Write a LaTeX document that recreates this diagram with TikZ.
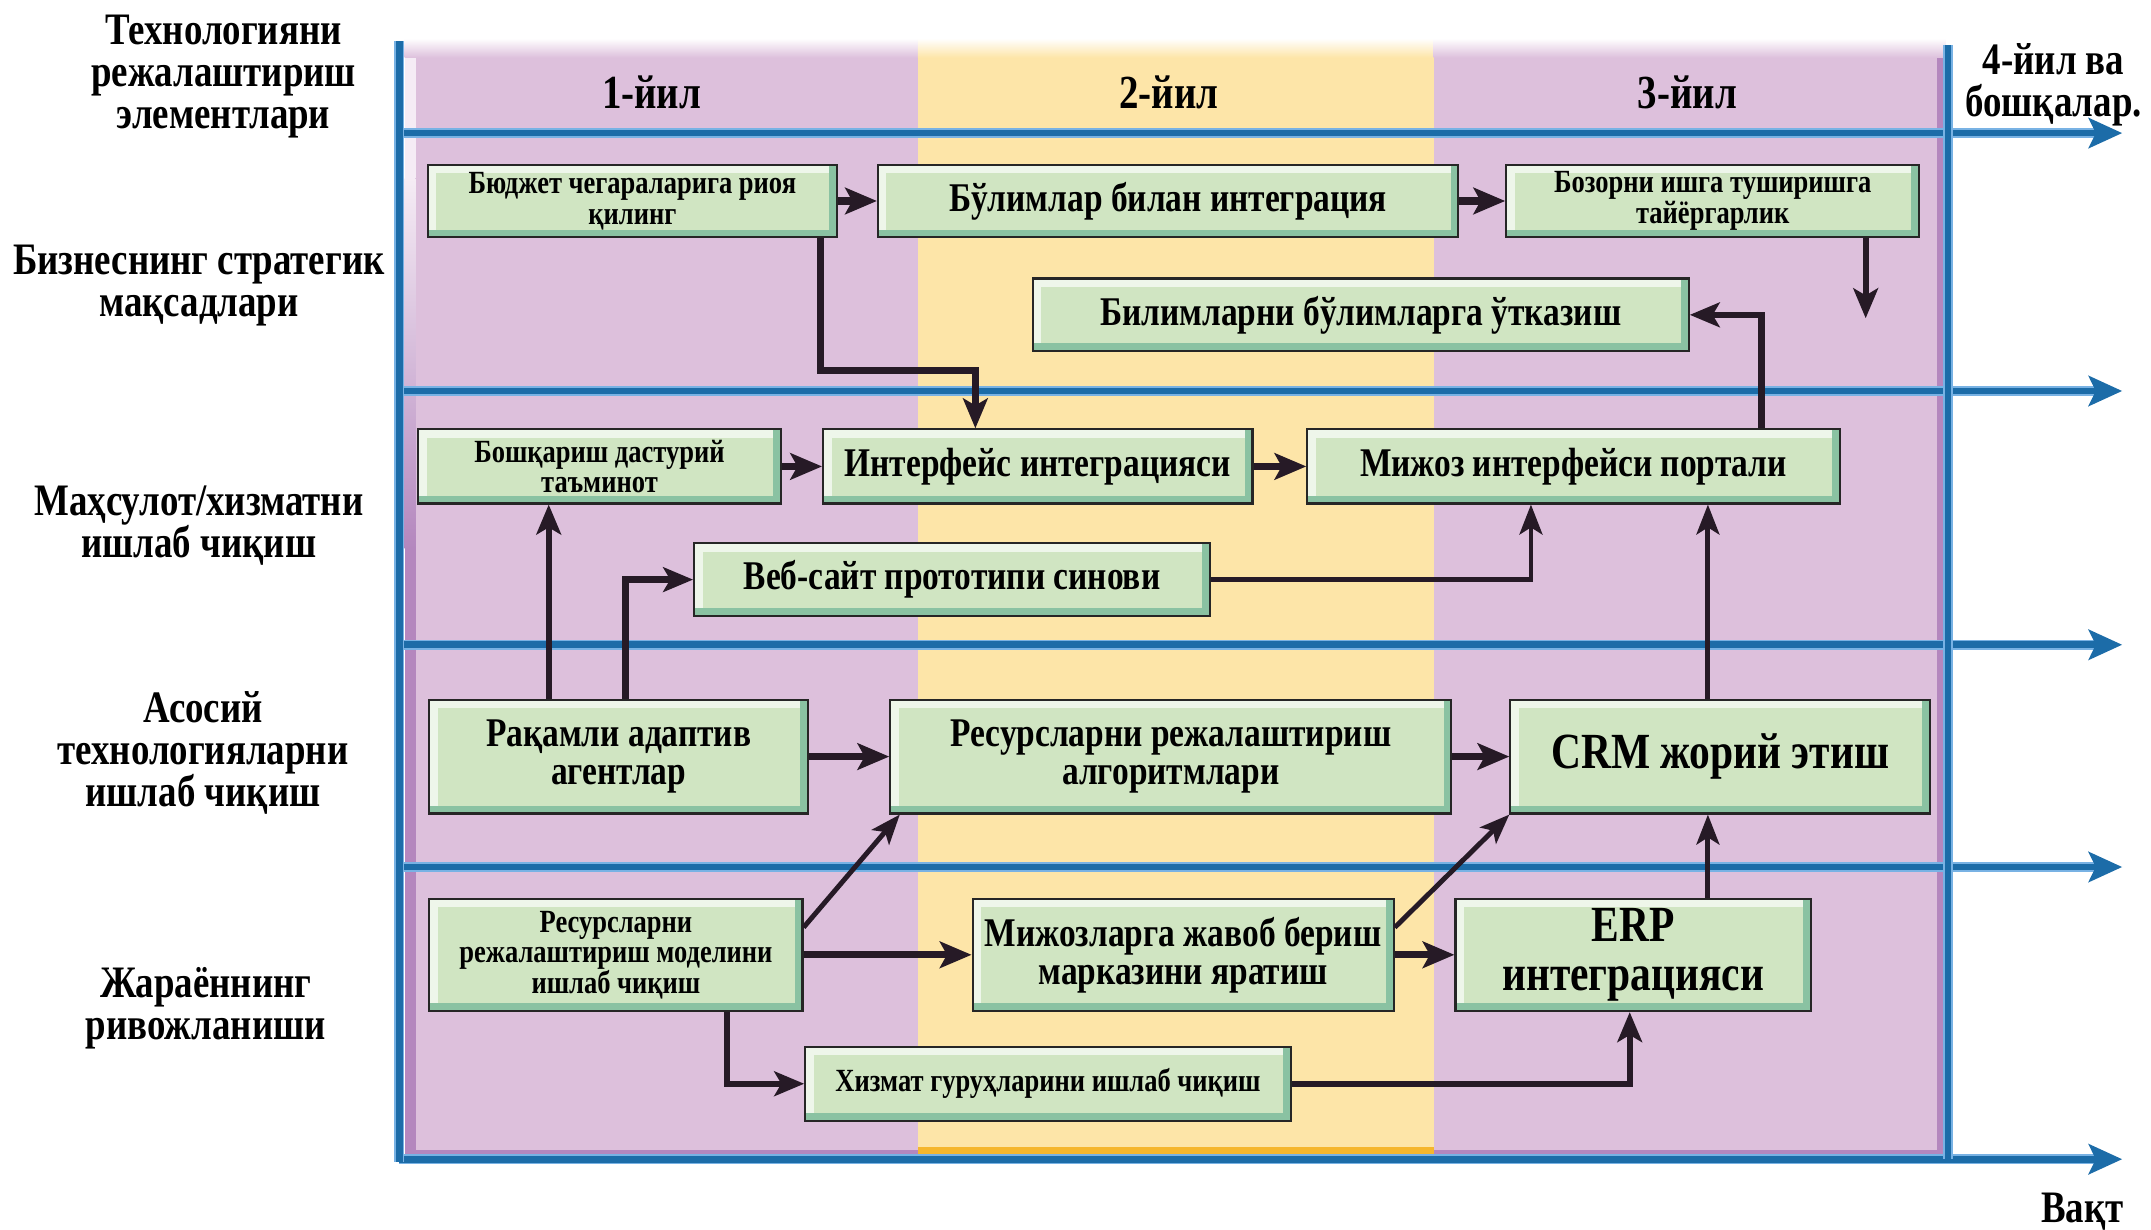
\documentclass[tikz,border=0pt]{standalone}
\usepackage{fontspec}
\setmainfont{Liberation Serif}[FakeStretch=0.82]
\usetikzlibrary{arrows.meta}
\definecolor{purp}{RGB}{221,192,220}
\definecolor{purpdark}{RGB}{180,135,190}
\definecolor{yell}{RGB}{253,229,168}
\definecolor{orng}{RGB}{245,182,45}
\definecolor{bdark}{RGB}{28,108,168}
\definecolor{blight}{RGB}{120,178,228}
\definecolor{boxin}{RGB}{208,229,194}
\definecolor{boxlight}{RGB}{238,246,234}
\definecolor{boxteal}{RGB}{138,194,162}
\definecolor{arrc}{RGB}{38,26,38}
\tikzset{
  lab/.style={align=center, inner sep=0pt, font=\fontsize{12.8}{12}\selectfont\bfseries},
  hdr/.style={inner sep=0pt, font=\fontsize{13.5}{13}\selectfont\bfseries},
  bx/.style 2 args={minimum width=#1*0.01372cm, minimum height=#2*0.01372cm},
  box/.style={draw=black!85, line width=0.6pt, fill=boxteal, inner sep=0pt, align=center,
    path picture={
      \fill[boxlight] (path picture bounding box.north west) rectangle ([shift={(-2.2pt,2.2pt)}]path picture bounding box.south east);
      \fill[boxin] ([shift={(2.4pt,-2.4pt)}]path picture bounding box.north west) rectangle ([shift={(-2.2pt,2.2pt)}]path picture bounding box.south east);
    }},
  fbig/.style={font=\fontsize{11.6}{10.8}\selectfont\bfseries},
  fsmall/.style={font=\fontsize{9.2}{8.7}\selectfont\bfseries},
  fhuge/.style={font=\fontsize{14.4}{14}\selectfont\bfseries},
  arr/.style={draw=arrc, line width=2pt, -{Stealth[length=9pt,width=7.5pt,inset=2pt]}},
  arrm/.style={draw=arrc, line width=1.8pt, -{Stealth[length=8.5pt,width=7pt,inset=2pt]}},
  arrt/.style={draw=arrc, line width=1.4pt, -{Stealth[length=8.5pt,width=6.5pt,inset=2pt]}},
  bunder/.style={draw=blight, line width=2.8pt},
  bline/.style={draw=bdark, line width=1.9pt},
  barr/.style={draw=bdark, line width=1.9pt, -{Stealth[length=9.5pt,width=8.5pt,inset=2pt]}}
}
\begin{document}
\begin{tikzpicture}[x=0.01372cm,y=-0.01372cm]
\useasboundingbox[fill=white] (0,0) rectangle (1568,896);
% backgrounds
\fill[purpdark] (295,40) rectangle (1418,843);
\fill[purp] (303,40) rectangle (669,838);
\fill[yell] (669,40) rectangle (1045,838);
\fill[purp] (1045,40) rectangle (1412,838);
\fill[orng] (669,836) rectangle (1045,843);
\fill[white!70!purp] (295,40) rectangle (303,130);
\shade[top color=white!70!purp, bottom color=purpdark] (295,130) rectangle (303,400);
\shade[top color=white, bottom color=purp] (295,28) rectangle (669,42);
\shade[top color=white, bottom color=yell] (669,28) rectangle (1045,42);
\shade[top color=white, bottom color=purp] (1045,28) rectangle (1418,42);
% blue axes
\foreach \yy in {97,285,470,632,845}{
  \draw[bunder] (291,\yy) -- (1528,\yy);
  \draw[barr] (291,\yy) -- (1547,\yy);
}
\draw[bunder] (291,30) -- (291,847);
\draw[bline] (291,30) -- (291,847);
\draw[bunder] (1420,33) -- (1420,845);
\draw[bline] (1420,33) -- (1420,845);
% labels
\node[lab] (l1) at (163,56) {Технологияни\\режалаштириш\\элементлари};
\node[lab] (l2) at (145,208) {Бизнеснинг стратегик\\мақсадлари};
\node[lab] (l3) at (145,383) {Маҳсулот/хизматни\\ишлаб чиқиш};
\node[lab] (l4) at (148,549) {Асосий\\технологияларни\\ишлаб чиқиш};
\node[lab] (l5) at (150,735) {Жараённинг\\ривожланиши};
\node[lab] (l6) at (1497,62) {4-йил ва\\бошқалар.};
\node[lab] (l7) at (1518,883) {Вақт};
\node[hdr] (h1) at (475,67) {1-йил};
\node[hdr] (h2) at (852,67) {2-йил};
\node[hdr] (h3) at (1230,67) {3-йил};
% boxes
\node[box, bx={298}{53}, fsmall] (bud) at (461,146.5) {Бюджет чегараларига риоя\\қилинг};
\node[box, bx={423}{53}, fbig] (bul) at (851.5,146.5) {Бўлимлар билан интеграция};
\node[box, bx={301}{53}, fsmall] (boz) at (1248.5,146.5) {Бозорни ишга туширишга\\тайёргарлик};
\node[box, bx={478}{53}, fbig] (bil) at (992,229.5) {Билимларни бўлимларга ўтказиш};
\node[box, bx={264}{54}, fsmall] (bosh) at (437,340) {Бошқариш дастурий\\таъминот};
\node[box, bx={313}{54}, fbig] (intf) at (756.5,340) {Интерфейс интеграцияси};
\node[box, bx={388}{54}, fbig] (mij) at (1147,340) {Мижоз интерфейси портали};
\node[box, bx={376}{53}, fbig] (veb) at (694,422.5) {Веб-сайт прототипи синови};
\node[box, bx={276}{83}, fbig] (raq) at (451,551.5) {Рақамли адаптив\\агентлар};
\node[box, bx={409}{83}, fbig] (ralg) at (853.5,551.5) {Ресурсларни режалаштириш\\алгоритмлари};
\node[box, bx={306}{83}, fhuge] (crm) at (1254,551.5) {CRM жорий этиш};
\node[box, bx={272}{82}, fsmall] (rmod) at (449,696) {Ресурсларни\\режалаштириш моделини\\ишлаб чиқиш};
\node[box, bx={307}{82}, fbig] (mjb) at (862.5,696) {Мижозларга жавоб бериш\\марказини яратиш};
\node[box, bx={259}{82}, fhuge] (erp) at (1190.5,696) {ERP\\интеграцияси};
\node[box, bx={354}{54}, fsmall] (xiz) at (764,790) {Хизмат гуруҳларини ишлаб чиқиш};
% helper coordinates
\coordinate (k1) at (598,270);
\coordinate (k2) at (711,270);
\coordinate (k3) at (1284,0);
\coordinate (k4) at (400,0);
\coordinate (k5) at (456,0);
\coordinate (k6) at (1116,0);
\coordinate (k7) at (1245,0);
\coordinate (k8) at (530,0);
\coordinate (k9) at (1188,0);
\coordinate (bozend) at (1360,232);
% connectors
\draw[arr] (bud) -- (bul);
\draw[arr] (bul) -- (boz);
\draw[arrm] (boz.south -| bozend) -- (bozend);
\draw[arrm] (bud.south -| k1) -- (k1) -- (k2) -- (intf.north -| k2);
\draw[arrm] (mij.north -| k3) |- (bil.east);
\draw[arr] (bosh) -- (intf);
\draw[arr] (intf) -- (mij);
\draw[arrm] (raq.north -| k4) -- (bosh.south -| k4);
\draw[arrm] (raq.north -| k5) |- (veb.west);
\draw[arrt] (veb.east) -| (mij.south -| k6);
\draw[arrt] (crm.north -| k7) -- (mij.south -| k7);
\draw[arr] (raq) -- (ralg);
\draw[arr] (ralg) -- (crm);
\draw[arrt] ([yshift=7.8pt]rmod.east) -- ([xshift=3pt]ralg.south west);
\draw[arr] (rmod) -- (mjb);
\draw[arrt] ([yshift=7.8pt]mjb.east) -- (crm.south west);
\draw[arr] (mjb) -- (erp);
\draw[arrt] (erp.north -| k7) -- (crm.south -| k7);
\draw[arrm] (rmod.south -| k8) |- (xiz.west);
\draw[arrm] (xiz.east) -| (erp.south -| k9);
\end{tikzpicture}
\end{document}
